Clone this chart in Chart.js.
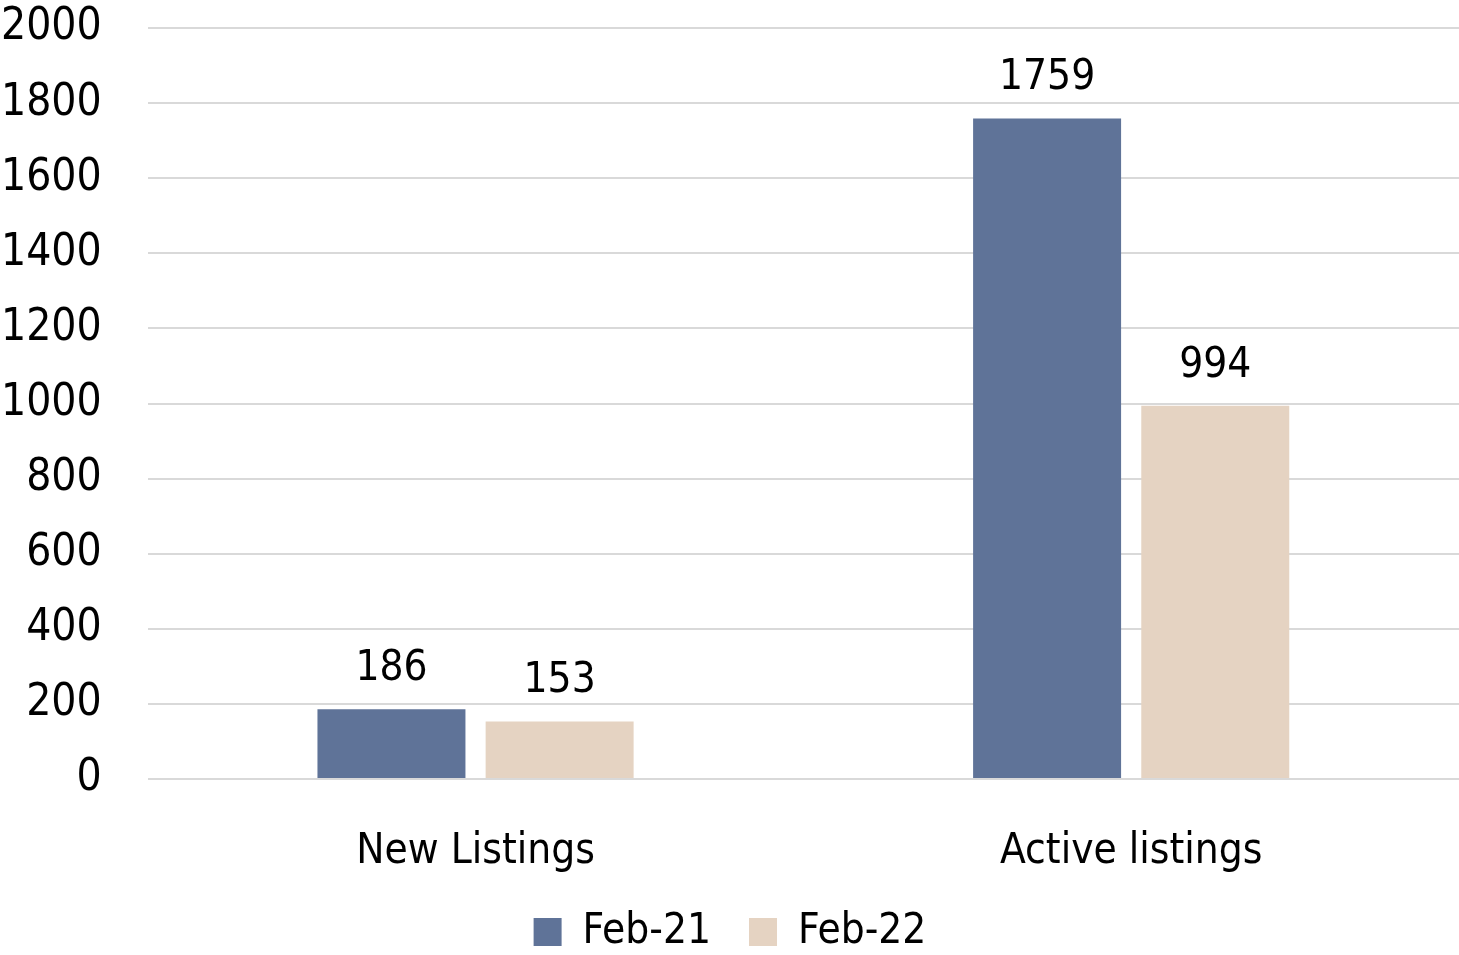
<!DOCTYPE html>
<html>
<head>
<meta charset="utf-8">
<script src="https://cdn.jsdelivr.net/npm/chart.js@4.4.0/dist/chart.umd.min.js"></script>
<style>
  html, body { margin: 0; padding: 0; background: #fff; }
  #wrap { width: 1459px; height: 955px; }
</style>
</head>
<body>
<div id="wrap"><canvas id="listingsChart"></canvas></div>
<script>
const categories = ["New Listings", "Active listings"];
const feb21 = [186, 1759];
const feb22 = [153, 994];
const yTicks = [0, 200, 400, 600, 800, 1000, 1200, 1400, 1600, 1800, 2000];

const FONT = "'Liberation Sans Narrow', 'DejaVu Sans Condensed', sans-serif";

// values above bars
const valueLabels = {
  id: "valueLabels",
  afterDatasetsDraw(chart) {
    const { ctx } = chart;
    ctx.save();
    ctx.font = "42px " + FONT;
    ctx.fillStyle = "#000";
    ctx.textAlign = "center";
    ctx.textBaseline = "middle";
    chart.data.datasets.forEach((ds, i) => {
      chart.getDatasetMeta(i).data.forEach((bar, j) => {
        ctx.fillText(String(ds.data[j]), bar.x, bar.y - 40);
      });
    });
    ctx.restore();
  },
};

// keep the legend band short so it sits close to the bottom edge
const legendHeight = {
  id: "legendHeight",
  beforeLayout(chart) {
    const lg = chart.legend;
    if (lg && !lg._fixedHeight) {
      const fit = lg.fit;
      lg.fit = function () {
        fit.call(this);
        this.height = 82;
      };
      lg._fixedHeight = true;
    }
  },
};

new Chart(document.getElementById("listingsChart"), {
  type: "bar",
  data: {
    labels: categories,
    datasets: [
      {
        label: "Feb-21",
        data: feb21,
        backgroundColor: "#5f7398",
        barPercentage: 0.88,
        categoryPercentage: 0.513,
      },
      {
        label: "Feb-22",
        data: feb22,
        backgroundColor: "#e5d3c2",
        barPercentage: 0.88,
        categoryPercentage: 0.513,
      },
    ],
  },
  options: {
    responsive: true,
    maintainAspectRatio: false,
    animation: false,
    layout: { padding: { top: 28, left: 1, right: 0, bottom: 0 } },
    plugins: {
      legend: {
        position: "bottom",
        labels: {
          color: "#000",
          font: { family: FONT, size: 42 },
          boxWidth: 28,
          boxHeight: 28,
          padding: 38,
        },
      },
      tooltip: { enabled: false },
    },
    scales: {
      x: {
        grid: { display: false, drawTicks: false },
        border: { display: false },
        ticks: { color: "#000", font: { family: FONT, size: 42 }, padding: 48 },
        afterFit: (axis) => {
          axis.height = 94;
        },
      },
      y: {
        min: 0,
        max: 2000,
        afterBuildTicks: (axis) => {
          axis.ticks = yTicks.map((v) => ({ value: v }));
        },
        grid: { color: "#d9d9d9", lineWidth: 2, tickLength: 46, tickColor: "rgba(0,0,0,0)" },
        border: { display: false },
        ticks: {
          color: "#000",
          font: { family: FONT, size: 44 },
          padding: 0,
          callback: (v) => String(v),
        },
      },
    },
  },
  plugins: [valueLabels, legendHeight],
});
</script>
</body>
</html>
